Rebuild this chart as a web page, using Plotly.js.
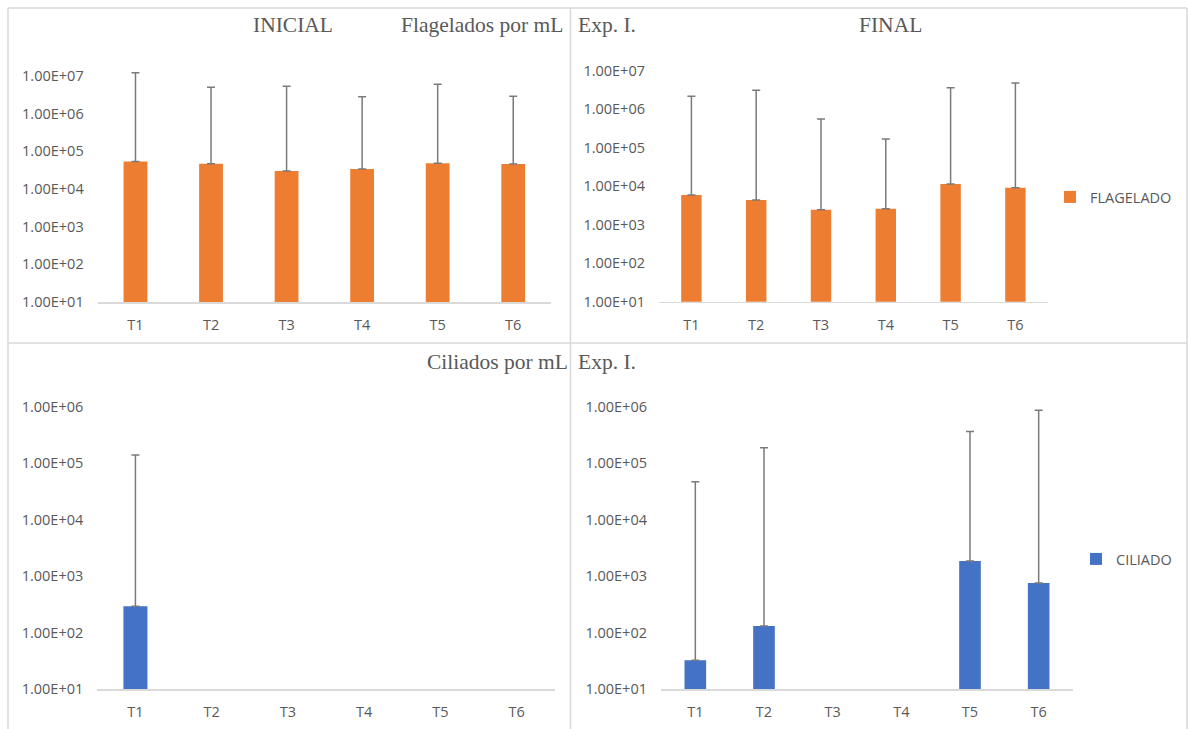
<!DOCTYPE html>
<html>
<head>
<meta charset="utf-8">
<script src="https://cdn.plot.ly/plotly-3.0.1.min.js"></script>
<style>html,body{margin:0;padding:0;background:#fff;}#chart{width:1188px;height:729px;}</style>
</head>
<body>
<div id="chart"></div>
<script>
// ---- data ----
const categories = ['T1', 'T2', 'T3', 'T4', 'T5', 'T6'];

// Flagelados por mL
const flagInicial = [54000, 47000, 30000, 34000, 48000, 46000];
const flagInicialErr = [12150000, 4950000, 5270000, 2770000, 5950000, 2850000];
const flagFinal = [5960, 4420, 2470, 2620, 11500, 9230];
const flagFinalErr = [2190000, 3150000, 557000, 167000, 3670000, 4860000];

// Ciliados por mL
const cilInicial = [294, null, null, null, null, null];
const cilInicialErr = [140000, null, null, null, null, null];
const cilFinal = [32.6, 132, null, null, 1870, 760];
const cilFinalErr = [47200, 187000, null, null, 362000, 867000];

const yTickVals7 = [1e1, 1e2, 1e3, 1e4, 1e5, 1e6, 1e7];
const yTickText7 = ['1.00E+01', '1.00E+02', '1.00E+03', '1.00E+04', '1.00E+05', '1.00E+06', '1.00E+07'];
const yTickVals6 = [1e1, 1e2, 1e3, 1e4, 1e5, 1e6];
const yTickText6 = ['1.00E+01', '1.00E+02', '1.00E+03', '1.00E+04', '1.00E+05', '1.00E+06'];

const seriesNames = ['FLAGELADO', 'CILIADO'];

// ---- styling ----
const ORANGE = '#ED7D31';
const BLUE = '#4472C4';
const GREY_TXT = '#595959';
const ERR_COL = '#7a7a7a';
const LINE_COL = '#d9d9d9';
const tickFont = {family: 'Open Sans, sans-serif', size: 14.5, color: GREY_TXT};
const titleFont = {family: 'Liberation Serif, serif', size: 21.5, color: GREY_TXT};

function errBar(vals) {
  return {type: 'data', symmetric: false, array: vals, arrayminus: vals.map(v => v == null ? null : 0),
          color: ERR_COL, thickness: 1.5, width: 4, visible: true};
}

function barTrace(y, err, color, name, xa, ya, showlegend, legend) {
  return {type: 'bar', x: categories, y: y, name: name, xaxis: xa, yaxis: ya,
          marker: {color: color}, width: 0.315, error_y: errBar(err),
          showlegend: showlegend, legend: legend, hoverinfo: 'x+y'};
}

const data = [
  barTrace(flagInicial, flagInicialErr, ORANGE, seriesNames[0], 'x', 'y', false, 'legend'),
  barTrace(flagFinal, flagFinalErr, ORANGE, seriesNames[0], 'x2', 'y2', true, 'legend'),
  barTrace(cilInicial, cilInicialErr, BLUE, seriesNames[1], 'x3', 'y3', false, 'legend2'),
  barTrace(cilFinal, cilFinalErr, BLUE, seriesNames[1], 'x4', 'y4', true, 'legend2')
];

function xAxis(domain, anchor) {
  return {domain: domain, anchor: anchor, type: 'category', range: [-0.5, 5.5],
          showline: true, linecolor: LINE_COL, linewidth: 1.5, showgrid: false, zeroline: false,
          ticks: '', tickfont: tickFont, ticklabelstandoff: 9, fixedrange: true};
}
function yAxis(domain, anchor, range, tv, tt) {
  return {domain: domain, anchor: anchor, type: 'log', range: range,
          tickvals: tv, ticktext: tt, showline: false, showgrid: false, zeroline: false,
          ticks: '', tickfont: tickFont, ticklabelstandoff: 13, fixedrange: true};
}

function px(x) { return x / 1188; }
function py(y) { return (729 - y) / 729; }

const shapes = [
  [8, 8, 1187, 8], [8, 343, 1187, 343], [8, 8, 8, 729], [570.5, 8, 570.5, 729], [1187, 8, 1187, 729]
].map(s => ({type: 'line', xref: 'paper', yref: 'paper', x0: px(s[0]), y0: py(s[1]), x1: px(s[2]), y1: py(s[3]),
            line: {color: LINE_COL, width: 1.5}, layer: 'below'}));

const annotations = [
  {text: 'INICIAL', x: px(293), y: py(25), xanchor: 'center'},
  {text: 'Flagelados por mL', x: px(565), y: py(25), xanchor: 'right'},
  {text: 'Exp. I.', x: px(576), y: py(25), xanchor: 'left'},
  {text: 'FINAL', x: px(890), y: py(25), xanchor: 'center'},
  {text: 'Ciliados por mL', x: px(570), y: py(362), xanchor: 'right'},
  {text: 'Exp. I.', x: px(576), y: py(362), xanchor: 'left'}
].map(a => Object.assign({xref: 'paper', yref: 'paper', yanchor: 'middle', showarrow: false, font: titleFont}, a));

const layout = {
  width: 1188, height: 729,
  margin: {l: 0, r: 0, t: 0, b: 0},
  paper_bgcolor: '#fff', plot_bgcolor: 'rgba(0,0,0,0)',
  bargap: 0.685,
  xaxis: xAxis([px(97.7), px(551)], 'y'),
  yaxis: yAxis([py(302), py(70.3)], 'x', [1, 7.15], yTickVals7, yTickText7),
  xaxis2: xAxis([px(659), px(1047.8)], 'y2'),
  yaxis2: yAxis([py(301.7), py(65.2)], 'x2', [1, 7.15], yTickVals7, yTickText7),
  xaxis3: xAxis([px(97.3), px(554.7)], 'y3'),
  yaxis3: yAxis([py(689.3), py(403.9)], 'x3', [1, 6.05], yTickVals6, yTickText6),
  xaxis4: xAxis([px(661), px(1073)], 'y4'),
  yaxis4: yAxis([py(689.3), py(403.9)], 'x4', [1, 6.05], yTickVals6, yTickText6),
  legend: {x: px(1050), y: py(197), xanchor: 'left', yanchor: 'middle', bgcolor: 'rgba(0,0,0,0)',
           font: tickFont, borderwidth: 0},
  legend2: {x: px(1076), y: py(559), xanchor: 'left', yanchor: 'middle', bgcolor: 'rgba(0,0,0,0)',
            font: tickFont, borderwidth: 0},
  shapes: shapes,
  annotations: annotations,
  showlegend: true
};

Plotly.newPlot('chart', data, layout, {staticPlot: true, displayModeBar: false});
</script>
</body>
</html>
